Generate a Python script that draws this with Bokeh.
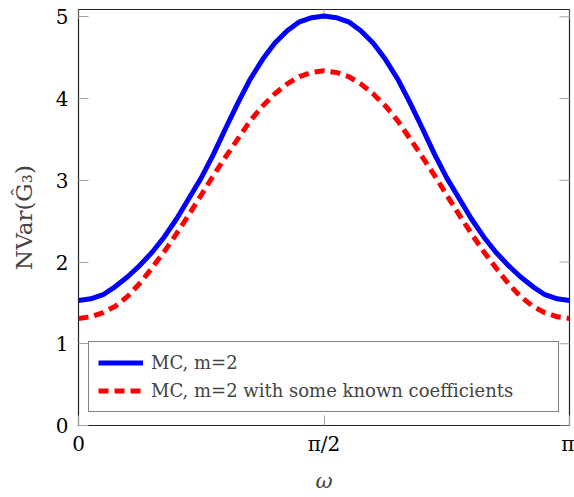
import math
from bokeh.plotting import figure
from bokeh.models import FixedTicker, Range1d
from bokeh.embed import file_html
from bokeh.resources import INLINE

PI = math.pi
omega = [0.0, 0.0785, 0.1571, 0.2356, 0.3142, 0.3927, 0.4712, 0.5498, 0.6283, 0.7069,
         0.7854, 0.8639, 0.9425, 1.0210, 1.0996, 1.1781, 1.2566, 1.3352, 1.4137, 1.4923,
         1.5708, 1.6493, 1.7279, 1.8064, 1.8850, 1.9635, 2.0420, 2.1206, 2.1991, 2.2777,
         2.3562, 2.4347, 2.5133, 2.5918, 2.6704, 2.7489, 2.8274, 2.9060, 2.9845, 3.0631,
         3.1416]
mc_m2 = [1.53, 1.55, 1.60, 1.70, 1.82, 1.96, 2.12, 2.31, 2.53, 2.78,
         3.03, 3.32, 3.64, 3.95, 4.24, 4.48, 4.68, 4.83, 4.94, 4.99,
         5.01, 4.99, 4.94, 4.83, 4.68, 4.48, 4.24, 3.95, 3.64, 3.32,
         3.03, 2.78, 2.53, 2.31, 2.12, 1.96, 1.82, 1.70, 1.60, 1.55,
         1.53]
mc_m2_known = [1.31, 1.33, 1.38, 1.46, 1.58, 1.74, 1.93, 2.13, 2.35, 2.58,
               2.82, 3.06, 3.29, 3.51, 3.73, 3.91, 4.06, 4.18, 4.27, 4.32,
               4.34, 4.32, 4.27, 4.18, 4.06, 3.91, 3.73, 3.51, 3.29, 3.06,
               2.82, 2.58, 2.35, 2.13, 1.93, 1.74, 1.58, 1.46, 1.38, 1.33,
               1.31]
x_ticks = [0.0, PI / 2, PI]
x_tick_labels = ["0", "π/2", "π"]
y_ticks = [0, 1, 2, 3, 4, 5]
series_labels = ["MC, m=2", "MC, m=2 with some known coefficients"]
X_MAX = PI
Y_MAX = 5.09

FONT = "DejaVu Serif"
TICK_GRAY = "#a0a0a0"

p = figure(width=574, height=497, output_backend="svg", toolbar_location=None,
           x_range=Range1d(0, X_MAX), y_range=Range1d(0, Y_MAX),
           min_border_left=78, min_border_right=5, min_border_top=9, min_border_bottom=72)
p.grid.visible = False
p.outline_line_color = "#222222"
p.outline_line_width = 1.2
p.background_fill_color = "white"
p.border_fill_color = "white"

# mirrored ticks on the right and top edges (half of each dash is clipped by the frame)
p.scatter([X_MAX] * len(y_ticks), y_ticks, marker="dash", size=20,
          line_color=TICK_GRAY, line_width=1)
p.scatter(x_ticks, [Y_MAX] * len(x_ticks), marker="dash", size=20, angle=PI / 2,
          line_color=TICK_GRAY, line_width=1)

p.line(omega, mc_m2, line_color="#0000ff", line_width=5, legend_label=series_labels[0])
p.line(omega, mc_m2_known, line_color="#ff0000", line_width=5, line_dash="10 6",
       legend_label=series_labels[1])


def style_axis(ax, ticks):
    ax.ticker = FixedTicker(ticks=ticks)
    ax.axis_line_color = None
    ax.major_tick_in = 10
    ax.major_tick_out = 0
    ax.major_tick_line_color = TICK_GRAY
    ax.major_tick_line_width = 1
    ax.minor_tick_line_color = None
    ax.major_label_text_font = FONT
    ax.major_label_text_font_size = "20px"
    ax.major_label_text_color = "black"


xa = p.xaxis[0]
style_axis(xa, x_ticks)
xa.major_label_overrides = {t: l for t, l in zip(x_ticks, x_tick_labels)}
xa.major_label_standoff = 6
xa.axis_label = "ω"
xa.axis_label_text_font = FONT
xa.axis_label_text_font_style = "italic"
xa.axis_label_text_font_size = "21px"
xa.axis_label_standoff = 10

ya = p.yaxis[0]
style_axis(ya, y_ticks)
ya.major_label_standoff = 10
ya.axis_label = "NVar(Ĝ₃)"
ya.axis_label_text_font = FONT
ya.axis_label_text_font_style = "normal"
ya.axis_label_text_font_size = "23px"
ya.axis_label_standoff = 16

lg = p.legend[0]
lg.location = (10, 13)
lg.label_text_font = FONT
lg.label_text_font_size = "18px"
lg.glyph_width = 45
lg.glyph_height = 23
lg.label_height = 23
lg.label_width = 398
lg.label_standoff = 8
lg.spacing = 5
lg.padding = 9
lg.margin = 0
lg.border_line_color = "black"
lg.border_line_width = 1
lg.background_fill_alpha = 1
lg.click_policy = "none"

open("out.html", "w").write(file_html(p, INLINE))
